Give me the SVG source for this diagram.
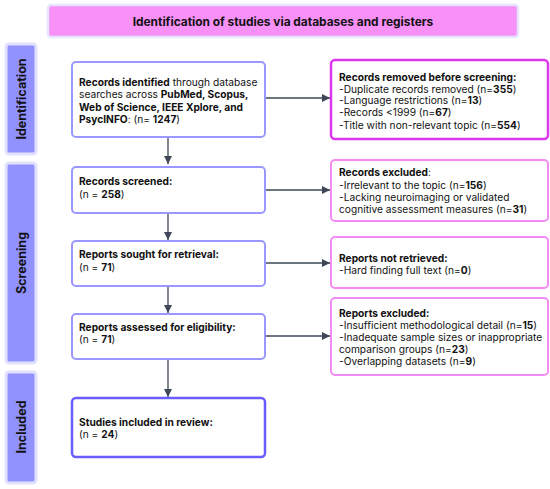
<svg xmlns="http://www.w3.org/2000/svg" width="550" height="489" viewBox="0 0 550 489">
<defs>
<style>
text{font-family:Inter,"Noto Sans","Liberation Sans",sans-serif;fill:#111;font-size:10.2px}
.b{font-weight:bold}
.side{fill:#9292ff;stroke:#e2e2ff;stroke-width:3}
.lbl{font-size:12.5px;font-weight:bold;fill:#111}
.lb{fill:#fff;stroke:#9a97ff;stroke-width:2}
.rb{fill:#fff;stroke:#f28cf2;stroke-width:2}
.conn{stroke:#3d4756;stroke-width:1.3;fill:none}
</style>
<marker id="ah" viewBox="0 0 10 10" refX="10" refY="5" markerWidth="8" markerHeight="9" markerUnits="userSpaceOnUse" orient="auto">
<path d="M0,0 L10,5 L0,10 z" fill="#3d4756"/>
</marker>
<marker id="ahw" viewBox="0 0 10 10" refX="10" refY="5" markerWidth="13" markerHeight="8" markerUnits="userSpaceOnUse" orient="auto">
<path d="M0,0 L10,5 L0,10 z" fill="#3d4756"/>
</marker>
</defs>
<rect width="550" height="489" fill="#fff"/>
<g id="title">
<rect x="48" y="5" width="470" height="32" rx="3" fill="#f790f7" stroke="#e6e4ff" stroke-width="2.5"/>
<text x="283" y="25.5" text-anchor="middle" class="b" style="font-size:11.9px">Identification of studies via databases and registers</text>
</g>
<g id="phase-identification">
<rect class="side" x="6" y="44" width="30" height="110" rx="3"/>
<text class="lbl" transform="translate(26,99) rotate(-90)" text-anchor="middle">Identification</text>
</g>
<g id="phase-screening">
<rect class="side" x="6" y="163" width="30" height="200" rx="3"/>
<text class="lbl" transform="translate(26,263) rotate(-90)" text-anchor="middle">Screening</text>
</g>
<g id="phase-included">
<rect class="side" x="6" y="372" width="30" height="111" rx="3"/>
<text class="lbl" transform="translate(26,427) rotate(-90)" text-anchor="middle">Included</text>
</g>
<g id="connectors">
<path class="conn" d="M168,137 V164" marker-end="url(#ah)"/>
<path class="conn" d="M168,213 V240" marker-end="url(#ah)"/>
<path class="conn" d="M168,286 V313" marker-end="url(#ah)"/>
<path class="conn" d="M168,359 V397" marker-end="url(#ah)"/>
<path class="conn" d="M265,98 H330" marker-end="url(#ahw)"/>
<path class="conn" d="M265,190 H330" marker-end="url(#ahw)"/>
<path class="conn" d="M265,263 H330" marker-end="url(#ahw)"/>
<path class="conn" d="M265,336 H330" marker-end="url(#ahw)"/>
</g>
<g id="records-identified">
<rect class="lb" x="72" y="62" width="193" height="75" rx="4"/>
<text x="79" y="85.5"><tspan class="b">Records identified</tspan> through database</text>
<text x="79" y="98">searches across <tspan class="b">PubMed, Scopus,</tspan></text>
<text x="79" y="110.5" class="b">Web of Science, IEEE Xplore, and</text>
<text x="79" y="122.5"><tspan class="b">PsycINFO</tspan>: (n= <tspan class="b">1247</tspan>)</text>
</g>
<g id="records-screened">
<rect class="lb" x="72" y="167" width="193" height="46" rx="4"/>
<text x="79" y="185" class="b">Records screened:</text>
<text x="79" y="198">(n = <tspan class="b">258</tspan>)</text>
</g>
<g id="reports-sought">
<rect class="lb" x="72" y="241" width="193" height="45" rx="4"/>
<text x="79" y="258" class="b">Reports sought for retrieval:</text>
<text x="79" y="271">(n = <tspan class="b">71</tspan>)</text>
</g>
<g id="reports-assessed">
<rect class="lb" x="72" y="314" width="193" height="45" rx="4"/>
<text x="79" y="331" class="b">Reports assessed for eligibility:</text>
<text x="79" y="343">(n = <tspan class="b">71</tspan>)</text>
</g>
<g id="studies-included">
<rect x="72" y="398" width="193" height="59" rx="4" fill="#fff" stroke="#6a5cff" stroke-width="2.5"/>
<text x="79" y="426" class="b">Studies included in review:</text>
<text x="79" y="438">(n = <tspan class="b">24</tspan>)</text>
</g>
<g id="records-removed">
<rect x="331" y="60" width="217" height="79" rx="4" fill="#fff" stroke="#de35ee" stroke-width="2.5"/>
<text x="339" y="81" class="b">Records removed before screening:</text>
<text x="339" y="92.5">-Duplicate records removed (n=<tspan class="b">355</tspan>)</text>
<text x="339" y="104">-Language restrictions (n=<tspan class="b">13</tspan>)</text>
<text x="339" y="116">-Records &lt;1999 (n=<tspan class="b">67</tspan>)</text>
<text x="339" y="128.5">-Title with non-relevant topic (n=<tspan class="b">554</tspan>)</text>
</g>
<g id="records-excluded">
<rect class="rb" x="331" y="160" width="217" height="61" rx="4"/>
<text x="339" y="176"><tspan class="b">Records excluded</tspan>:</text>
<text x="339" y="189">-Irrelevant to the topic (n=<tspan class="b">156</tspan>)</text>
<text x="339" y="201">-Lacking neuroimaging or validated</text>
<text x="339" y="213">cognitive assessment measures (n=<tspan class="b">31</tspan>)</text>
</g>
<g id="reports-not-retrieved">
<rect class="rb" x="331" y="237" width="217" height="51" rx="4"/>
<text x="339" y="262" class="b">Reports not retrieved:</text>
<text x="339" y="274">-Hard finding full text (n=<tspan class="b">0</tspan>)</text>
</g>
<g id="reports-excluded">
<rect class="rb" x="331" y="298" width="217" height="77" rx="4"/>
<text x="339" y="317" class="b">Reports excluded:</text>
<text x="339" y="329">-Insufficient methodological detail (n=<tspan class="b">15</tspan>)</text>
<text x="339" y="341">-Inadequate sample sizes or inappropriate</text>
<text x="339" y="353">comparison groups (n=<tspan class="b">23</tspan>)</text>
<text x="339" y="365">-Overlapping datasets (n=<tspan class="b">9</tspan>)</text>
</g>
</svg>
